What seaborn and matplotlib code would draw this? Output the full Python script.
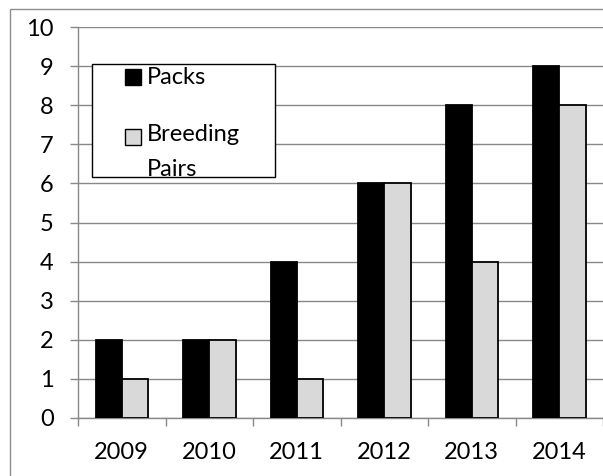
import matplotlib
matplotlib.use("Agg")
import matplotlib.pyplot as plt
import seaborn as sns
import pandas as pd
from matplotlib.patches import Rectangle, Patch

years = ["2009", "2010", "2011", "2012", "2013", "2014"]
packs = [2, 2, 4, 6, 8, 9]
breeding_pairs = [1, 2, 1, 6, 4, 8]
series_names = ["Packs", "Breeding\nPairs"]
y_ticks = list(range(0, 11))

df = pd.DataFrame({
    "Year": years * 2,
    "Value": packs + breeding_pairs,
    "Series": [series_names[0]] * len(years) + [series_names[1]] * len(years),
})

sns.set_style("white")
plt.rcParams["font.family"] = ["Lato", "DejaVu Sans"]
plt.rcParams["text.color"] = "black"
plt.rcParams["xtick.color"] = "black"
plt.rcParams["ytick.color"] = "black"
FS = 17
FSPX = FS * 100 / 72
PT = 0.72  # points per pixel at 100 dpi
GRID = "#888888"

W, H = 603, 476
fig = plt.figure(figsize=(W / 100, H / 100), dpi=100)
ax = fig.add_axes([78 / W, (H - 418) / H, 525 / W, 391 / H])

sns.barplot(data=df, x="Year", y="Value", hue="Series", order=years,
            hue_order=series_names, palette=["#000000", "#d9d9d9"],
            width=0.6, gap=0, edgecolor="black", linewidth=1.3,
            ax=ax, legend=False, zorder=3)

ax.set_xlim(-0.5, len(years) - 0.5)
ax.set_ylim(0, 10)
ax.set_yticks(y_ticks)
ax.set_yticklabels([str(t) for t in y_ticks])
ax.yaxis.grid(True, color=GRID, linewidth=1.0, zorder=0)
ax.set_axisbelow(True)
ax.set_xlabel("")
ax.set_ylabel("")

for s in ["top", "right"]:
    ax.spines[s].set_visible(False)
for s in ["left", "bottom"]:
    ax.spines[s].set_color(GRID)
    ax.spines[s].set_linewidth(1.0)

ax.tick_params(axis="y", which="major", length=6, width=1.0, color=GRID,
               labelcolor="black", direction="out", pad=11.5, labelsize=FS,
               left=True)
ax.tick_params(axis="x", which="major", length=0, pad=17, labelsize=FS,
               labelcolor="black")
ax.set_xticks([i - 0.5 for i in range(len(years) + 1)], minor=True)
ax.tick_params(axis="x", which="minor", length=6, width=1.0, color=GRID,
               direction="out", bottom=True)

# legend box
ax.add_patch(Rectangle((14 / 525, (418 - 177) / 391), 183 / 525, 113 / 391,
                       transform=ax.transAxes, facecolor="white",
                       edgecolor="black", linewidth=1.0, zorder=4,
                       clip_on=False))
handles = [Patch(facecolor="#000000", edgecolor="black", linewidth=1.0),
           Patch(facecolor="#d9d9d9", edgecolor="black", linewidth=1.0)]
leg = ax.legend(handles, series_names, loc="upper left",
                bbox_to_anchor=((125 - 78) / 525, (418 - 67.5) / 391),
                frameon=False, fontsize=FS, borderpad=0, borderaxespad=0,
                handlelength=17 / FSPX, handleheight=17 / FSPX,
                handletextpad=0.2, labelspacing=1.5)
leg.set_zorder(5)
leg.get_texts()[1].set_linespacing(1.8)
for i, p in enumerate(leg.legend_handles):
    p.set_x(0)
    p.set_width(16 * PT)
    p.set_height(16 * PT)
    p.set_y(0 if i == 0 else 15.5 * PT)

# outer border of the chart area
fig.patches.append(Rectangle((10 / W, -0.2), 2.0, (H - 9) / H + 0.2,
                             transform=fig.transFigure, facecolor="none",
                             edgecolor="#8c8c8c", linewidth=1.0))

fig.savefig("out.png", dpi=100)
